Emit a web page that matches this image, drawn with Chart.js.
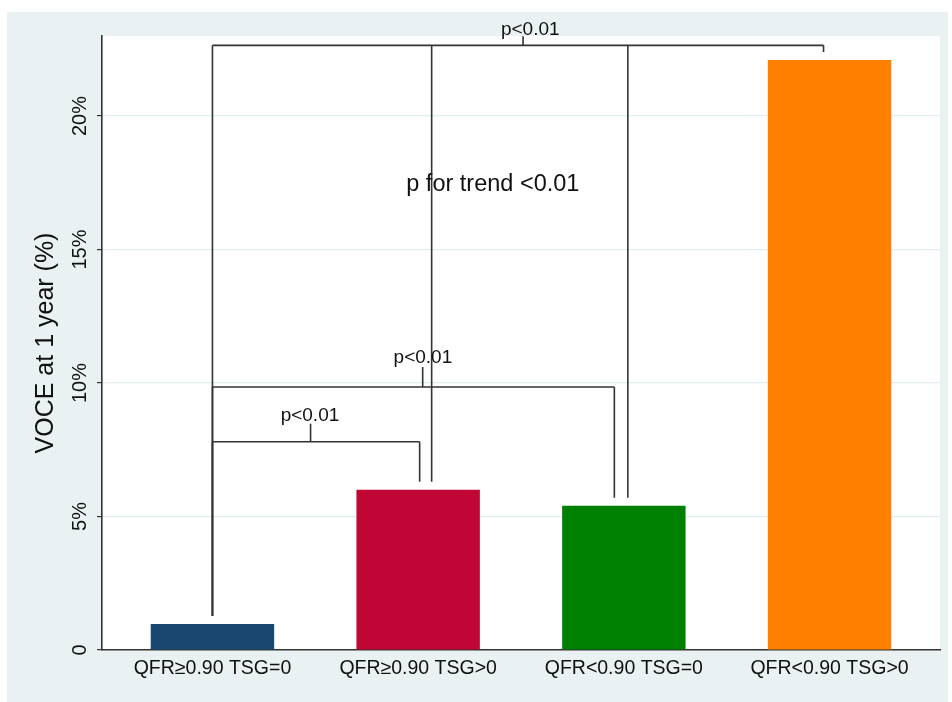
<!DOCTYPE html>
<html>
<head>
<meta charset="utf-8">
<script src="https://cdn.jsdelivr.net/npm/chart.js@4/dist/chart.umd.min.js"></script>
<style>
  html, body { margin: 0; padding: 0; background: #ffffff; }
  #wrap { width: 952px; height: 702px; }
</style>
</head>
<body>
<div id="wrap"><canvas id="c" width="952" height="702"></canvas></div>
<script>
// Groups and one-year VOCE rates (%)
const categories = ['QFR\u22650.90 TSG=0', 'QFR\u22650.90 TSG>0', 'QFR<0.90 TSG=0', 'QFR<0.90 TSG>0'];
const voceRates = [0.97, 6.0, 5.4, 22.1];
const barColors = ['#1a476f', '#c10534', '#008000', '#ff8000'];
const yTicks = [0, 5, 10, 15, 20];
const yMax = 23;

// Pairwise comparisons drawn as brackets above the bars
const comparisons = [
  { groups: [0, 1, 2, 3], label: 'p<0.01' },
  { groups: [0, 2], label: 'p<0.01' },
  { groups: [0, 1], label: 'p<0.01' }
];
const trendLabel = 'p for trend <0.01';

// Bracket geometry: level (% units), leg x-offsets (px from bar centre),
// tick position (x units), tick height and label lift (px)
const bracketLayout = [
  { level: 22.65, legShift: [0, 13.5, 4, -6], tickX: 1.51, tickLen: 9, labelX: 1.545, labelLift: 10 },
  { level: 9.85, legShift: [0, -9.5], tickX: 1.022, tickLen: 20, labelX: 1.023, labelLift: 24 },
  { level: 7.8, legShift: [0, 1.5], tickX: 0.477, tickLen: 18, labelX: 0.474, labelLift: 21 }
];
const trendPos = { x: 1.363, y: 17.2 };

const BG = '#eaf1f3';
const INK = '#333333';
const FONT = '"Liberation Sans", Arial, sans-serif';

const backdrop = {
  id: 'backdrop',
  beforeDraw(chart) {
    const { ctx, chartArea: a } = chart;
    ctx.save();
    ctx.fillStyle = '#ffffff';
    ctx.fillRect(0, 0, chart.width, chart.height);
    ctx.fillStyle = BG;
    ctx.fillRect(7, 12, 941, chart.height - 12);
    ctx.fillStyle = '#ffffff';
    ctx.fillRect(a.left, a.top, a.right - a.left, a.bottom - a.top);
    ctx.restore();
  }
};

const brackets = {
  id: 'brackets',
  afterDatasetsDraw(chart) {
    const { ctx } = chart;
    const xs = chart.scales.x, ys = chart.scales.y;
    ctx.save();
    ctx.strokeStyle = INK;
    ctx.lineWidth = 1.6;
    ctx.lineCap = 'butt';
    ctx.fillStyle = '#111111';
    ctx.textAlign = 'center';
    ctx.textBaseline = 'alphabetic';
    comparisons.forEach((cmp, k) => {
      const lay = bracketLayout[k];
      const yb = ys.getPixelForValue(lay.level);
      const legs = cmp.groups.map((g, j) => ({
        x: xs.getPixelForValue(g) + lay.legShift[j],
        bottom: ys.getPixelForValue(voceRates[g]) - 8
      }));
      ctx.beginPath();
      ctx.moveTo(legs[0].x, yb);
      ctx.lineTo(legs[legs.length - 1].x, yb);
      legs.forEach(l => { ctx.moveTo(l.x, yb); ctx.lineTo(l.x, l.bottom); });
      const tx = xs.getPixelForValue(lay.tickX);
      ctx.moveTo(tx, yb);
      ctx.lineTo(tx, yb - lay.tickLen);
      ctx.stroke();
      ctx.font = '19px ' + FONT;
      ctx.fillText(cmp.label, xs.getPixelForValue(lay.labelX), yb - lay.labelLift);
    });
    ctx.font = '23.5px ' + FONT;
    ctx.fillText(trendLabel, xs.getPixelForValue(trendPos.x), ys.getPixelForValue(trendPos.y));
    ctx.restore();
  }
};

new Chart(document.getElementById('c'), {
  type: 'bar',
  data: {
    datasets: [{
      data: voceRates.map((v, i) => ({ x: i, y: v })),
      backgroundColor: barColors,
      borderWidth: 0,
      barPercentage: 0.6,
      categoryPercentage: 1.0
    }]
  },
  options: {
    responsive: false,
    animation: false,
    events: [],
    layout: { padding: { left: 0, top: 36, right: 12, bottom: 0 } },
    plugins: { legend: { display: false }, tooltip: { enabled: false } },
    scales: {
      x: {
        type: 'linear',
        offset: false,
        min: -0.537,
        max: 3.537,
        afterBuildTicks: s => { s.ticks = categories.map((_, i) => ({ value: i })); },
        afterFit: s => { s.height = 52; },
        grid: { display: false, drawTicks: false },
        border: { display: true, color: INK, width: 1.6 },
        ticks: {
          padding: 7,
          autoSkip: false,
          maxRotation: 0,
          color: '#111111',
          font: { family: FONT, size: 19.5 },
          callback: v => categories[v]
        }
      },
      y: {
        min: 0,
        max: yMax,
        afterBuildTicks: s => { s.ticks = yTicks.map(v => ({ value: v })); },
        afterFit: s => { s.width = 102; },
        grid: { color: '#e3edf0', lineWidth: 1.2, drawTicks: true, tickLength: 5, tickColor: INK },
        border: { display: true, color: INK, width: 1.6 },
        title: {
          display: true,
          text: 'VOCE at 1 year (%)',
          color: '#111111',
          padding: { top: 31, bottom: 0 },
          font: { family: FONT, size: 25 }
        },
        ticks: {
          minRotation: 90,
          maxRotation: 90,
          crossAlign: 'center',
          padding: -3,
          color: '#111111',
          font: { family: FONT, size: 20 },
          callback: v => (v === 0 ? '0' : v + '%')
        }
      }
    }
  },
  plugins: [backdrop, brackets]
});
</script>
</body>
</html>
